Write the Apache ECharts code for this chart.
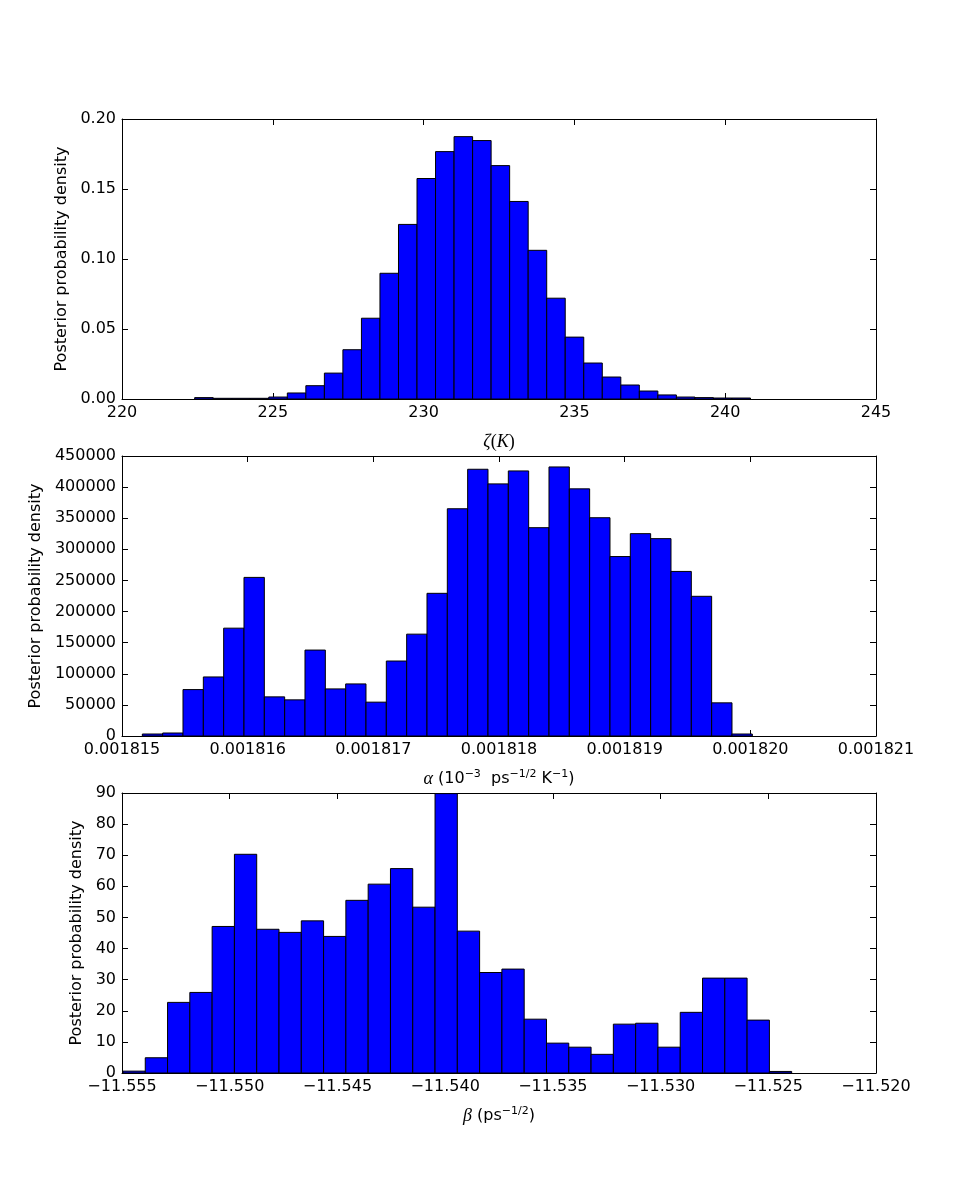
<!DOCTYPE html>
<html>
<head>
<meta charset="utf-8">
<script src="https://cdn.jsdelivr.net/npm/echarts@6/dist/echarts.min.js"></script>
<style>
  html, body { margin: 0; padding: 0; background: #fff; }
  #main { width: 973px; height: 1193px; }
</style>
</head>
<body>
<div id="main"></div>
<script>
// histogram bins: first left edge and bin width, then the density of each bin
const zetaStart = 222.41;
const zetaWidth = 0.6143;
const zetaDensity = [
  0.0010, 0.0005, 0.0005, 0.0005, 0.0014, 0.0043, 0.0095, 0.0185, 0.0352, 0.0577,
  0.0898, 0.1247, 0.1575, 0.1767, 0.1874, 0.1846, 0.1667, 0.1411, 0.1062, 0.0720,
  0.0442, 0.0257, 0.0157, 0.0100, 0.0057, 0.0029, 0.0014, 0.0010, 0.0007, 0.0007
];

const alphaStart = 0.0018151618;
const alphaWidth = 0.0000001618;
const alphaDensity = [
  3200, 4800, 74600, 94900, 173300, 254900, 62900, 58100, 138100, 75700,
  83700, 54400, 120500, 163700, 229300, 365200, 428700, 405200, 426000, 334800,
  432400, 397200, 350800, 288400, 325200, 317200, 264500, 224500, 53300, 3200
];

const betaStart = -11.554955;
const betaWidth = 0.0010347;
const betaDensity = [
  0.6, 4.9, 22.7, 25.9, 47.1, 70.3, 46.2, 45.2, 48.9, 43.9,
  55.5, 60.7, 65.7, 53.3, 89.8, 45.6, 32.3, 33.4, 17.3, 9.6,
  8.3, 6.0, 15.7, 16.0, 8.3, 19.5, 30.5, 30.5, 17.0, 0.5
];

// axis ranges and tick steps
const zetaX = [220, 245, 5];
const zetaY = [0, 0.2, 0.05];
const alphaX = [0.001815, 0.001821, 0.000001];
const alphaY = [0, 450000, 50000];
const betaX = [-11.555, -11.52, 0.005];
const betaY = [0, 90, 10];

const yTitle = 'Posterior probability density';
const font = 'DejaVu Sans';
const mathFont = 'Liberation Serif';

const dom = document.getElementById('main');
echarts.dispose(dom);
const myChart = echarts.init(dom, null, { renderer: 'canvas' });

const fmtMinus = s => s.replace('-', '\u2212');

const panels = [
  { top: 119, x: zetaX, y: zetaY, xFmt: v => fmtMinus(v.toFixed(0)), yFmt: v => v.toFixed(2),
    xName: '{m|\u03b6}{p|(}{m|K}{p|)}', yGap: 46 },
  { top: 456, x: alphaX, y: alphaY, xFmt: v => v.toFixed(6), yFmt: v => v.toFixed(0),
    xName: '{m|\u03b1}{t| (10}{s|\u22123}{t|  ps}{s|\u22121/2}{t| K}{s|\u22121}{t|)}', yGap: 74 },
  { top: 793, x: betaX, y: betaY, xFmt: v => fmtMinus(v.toFixed(3)), yFmt: v => v.toFixed(0),
    xName: '{m|\u03b2}{t| (ps}{s|\u22121/2}{t|)}', yGap: 30 }
];

const rich = {
  m: { fontFamily: mathFont, fontStyle: 'italic', fontSize: 18, lineHeight: 20, color: '#000' },
  p: { fontFamily: mathFont, fontSize: 18, lineHeight: 20, color: '#000' },
  t: { fontFamily: font, fontSize: 16, lineHeight: 20, color: '#000' },
  s: { fontFamily: font, fontSize: 11, lineHeight: 12, verticalAlign: 'top', color: '#000' }
};

const line = { show: true, onZero: false, lineStyle: { color: '#000', width: 1 } };
const tick = { show: true, inside: true, length: 6, lineStyle: { color: '#000', width: 1 } };

const grid = [];
const xAxis = [];
const yAxis = [];
const series = [];

panels.forEach((p, i) => {
  grid.push({ left: 122, width: 754, top: p.top, height: 280 });
  const xBase = { type: 'value', gridIndex: i, min: p.x[0], max: p.x[1], interval: p.x[2],
    splitLine: { show: false }, axisLine: line, axisTick: tick };
  const yBase = { type: 'value', gridIndex: i, min: p.y[0], max: p.y[1], interval: p.y[2],
    splitLine: { show: false }, axisLine: line, axisTick: tick };
  xAxis.push(Object.assign({}, xBase, {
    position: 'bottom',
    name: p.xName, nameLocation: 'middle', nameGap: 33,
    nameTextStyle: { rich },
    axisLabel: { show: true, margin: 6, fontFamily: font, fontSize: 16, color: '#000',
      showMinLabel: true, showMaxLabel: true, hideOverlap: false, formatter: p.xFmt }
  }));
  xAxis.push(Object.assign({}, xBase, { position: 'top', axisLabel: { show: false } }));
  yAxis.push(Object.assign({}, yBase, {
    position: 'left',
    name: yTitle, nameLocation: 'middle', nameGap: p.yGap, nameRotate: 90,
    nameTextStyle: { fontFamily: font, fontSize: 16, color: '#000' },
    axisLabel: { show: true, margin: 6, fontFamily: font, fontSize: 16, color: '#000',
      showMinLabel: true, showMaxLabel: true, formatter: p.yFmt }
  }));
  yAxis.push(Object.assign({}, yBase, { position: 'right', axisLabel: { show: false } }));
});

const histSeries = (i, start, width, dens) => ({
  type: 'custom',
  xAxisIndex: i * 2,
  yAxisIndex: i * 2,
  clip: true,
  data: dens.map((d, k) => [start + k * width, start + (k + 1) * width, d]),
  encode: { x: [0, 1], y: 2 },
  renderItem: (params, api) => {
    const p0 = api.coord([api.value(0), api.value(2)]);
    const p1 = api.coord([api.value(1), 0]);
    return {
      type: 'rect',
      shape: { x: p0[0], y: p0[1], width: p1[0] - p0[0], height: p1[1] - p0[1] },
      style: { fill: '#0000ff', stroke: '#000', lineWidth: 1 }
    };
  }
});

series.push(histSeries(0, zetaStart, zetaWidth, zetaDensity));
series.push(histSeries(1, alphaStart, alphaWidth, alphaDensity));
series.push(histSeries(2, betaStart, betaWidth, betaDensity));

const option = {
  animation: false,
  backgroundColor: '#fff',
  grid,
  xAxis,
  yAxis,
  series
};
myChart.setOption(option);
</script>
</body>
</html>
